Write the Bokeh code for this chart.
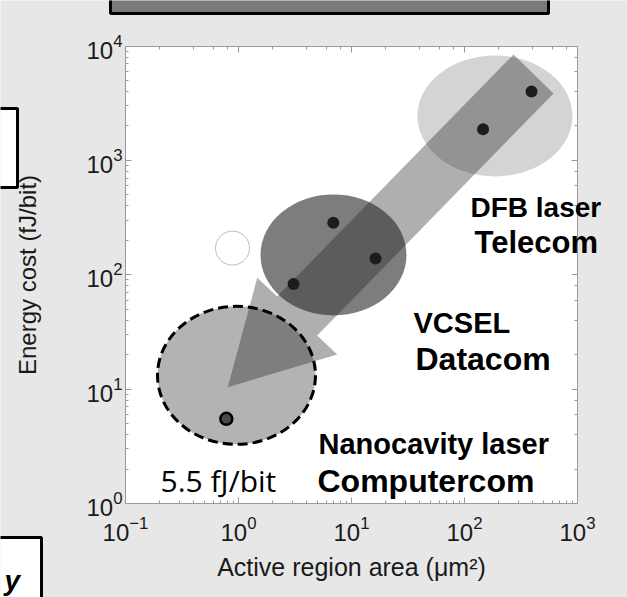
import math
from bokeh.plotting import figure
from bokeh.models import LogAxis, LogTicker, Label, BoxAnnotation, CustomJSTickFormatter, Range1d
from bokeh.embed import file_html
from bokeh.resources import INLINE

# ---------------- data ----------------
telecom_area = [146, 392]
telecom_energy = [1875, 4000]
vcsel_area = [3.07, 6.9, 16.3]
vcsel_energy = [83, 285, 139]
nano_area = [0.78]
nano_energy = [5.5]

x_tick_exponents = [-1, 0, 1, 2, 3]
y_tick_exponents = [0, 1, 2, 3, 4]

# group regions (centres in data units)
region_area = [186, 6.93, 0.96]
region_energy = [2445, 149, 13.2]
marker_area = [0.885]
marker_energy = [171]

# trend arrow outline (log10 data coordinates)
arrow_logx = [2.434, 2.788, 0.696, 0.873, -0.095, 0.166, 0.342]
arrow_logy = [3.926, 3.585, 1.468, 1.303, 1.017, 1.974, 1.809]

# ---------------- layout (pixels) ----------------
W, H = 627, 597
AX_L, AX_R, AX_T, AX_B = 125, 577, 45.5, 503   # axes box inside the canvas

x_lo, x_hi = x_tick_exponents[0], x_tick_exponents[-1]
y_lo, y_hi = y_tick_exponents[0], y_tick_exponents[-1]
dx = (AX_R - AX_L) / (x_hi - x_lo)
dy = (AX_B - AX_T) / (y_hi - y_lo)
x_range = Range1d(10 ** (x_lo - AX_L / dx), 10 ** (x_hi + (W - AX_R) / dx))
y_range = Range1d(10 ** (y_lo - (H - AX_B) / dy), 10 ** (y_hi + AX_T / dy))

BG = "#e7e7e7"
AX = "#9a9a9a"
TXT = "#1a1a1a"
FONT = "Liberation Sans"

p = figure(width=W, height=H, x_axis_type="log", y_axis_type="log",
           x_range=x_range, y_range=y_range,
           output_backend="svg", toolbar_location=None,
           min_border=0, background_fill_color=BG, border_fill_color=BG,
           outline_line_color=None)
p.title.visible = False
p.grid.visible = False

xb = (10 ** x_lo, 10 ** x_hi)
yb = (10 ** y_lo, 10 ** y_hi)

# white axes box
p.add_layout(BoxAnnotation(left=xb[0], right=xb[1], bottom=yb[0], top=yb[1],
                           fill_color="white", fill_alpha=1, line_color=None,
                           level="underlay"))

bottom_ax = p.below[0]
left_ax = p.left[0]
top_ax = LogAxis(ticker=LogTicker(), formatter=CustomJSTickFormatter(code="return ''"))
right_ax = LogAxis(ticker=LogTicker(), formatter=CustomJSTickFormatter(code="return ''"))
p.add_layout(top_ax, "above")
p.add_layout(right_ax, "right")

bottom_ax.fixed_location = yb[0]
top_ax.fixed_location = yb[1]
left_ax.fixed_location = xb[0]
right_ax.fixed_location = xb[1]
for ax in [bottom_ax, top_ax]:
    ax.bounds = xb
for ax in [left_ax, right_ax]:
    ax.bounds = yb

for ax in [bottom_ax, left_ax, top_ax, right_ax]:
    ax.axis_line_color = AX
    ax.major_tick_line_color = AX
    ax.minor_tick_line_color = AX
    ax.major_tick_in = 6
    ax.major_tick_out = 0
    ax.minor_tick_in = 3
    ax.minor_tick_out = 0
    ax.major_label_text_font = FONT
    ax.major_label_text_font_size = "24px"
    ax.major_label_text_color = TXT
    ax.axis_label_text_font = FONT
    ax.axis_label_text_font_style = "normal"
    ax.axis_label_text_color = TXT

bottom_ax.axis_label = "Active region area (\u03bcm\u00b2)"
bottom_ax.axis_label_text_font_size = "25px"
bottom_ax.major_label_standoff = 12
bottom_ax.axis_label_standoff = 9
left_ax.axis_label = "Energy cost (fJ/bit)"
left_ax.axis_label_text_font_size = "24px"
left_ax.major_label_standoff = 3
left_ax.axis_label_standoff = 42

# ---------------- regions ----------------
p.ellipse(x=[region_area[0]], y=[region_energy[0]], width=155, height=121,
          width_units="screen", height_units="screen",
          fill_color="#d4d4d4", line_color=None)
p.ellipse(x=[region_area[1]], y=[region_energy[1]], width=146, height=121,
          width_units="screen", height_units="screen",
          fill_color="#7d7d7d", line_color=None)
p.ellipse(x=[region_area[2]], y=[region_energy[2]], width=158, height=138,
          width_units="screen", height_units="screen",
          fill_color="#b3b3b3", line_color=None)
p.scatter(x=marker_area, y=marker_energy, size=34, fill_color="white",
          line_color="#bdbdbd", line_width=1)

p.patch(x=[10 ** v for v in arrow_logx], y=[10 ** v for v in arrow_logy],
        fill_color="#222222", fill_alpha=0.36, line_color=None)

p.ellipse(x=[region_area[2]], y=[region_energy[2]], width=158, height=138,
          width_units="screen", height_units="screen",
          fill_color=None, line_color="black", line_width=3, line_dash="10 5")

# ---------------- points ----------------
p.scatter(x=telecom_area, y=telecom_energy, size=12, fill_color="#1c1c1c", line_color=None)
p.scatter(x=vcsel_area, y=vcsel_energy, size=12, fill_color="#1c1c1c", line_color=None)
p.scatter(x=nano_area, y=nano_energy, size=12, fill_color="#4a4a4a",
          line_color="black", line_width=2.5)

# ---------------- annotations ----------------
def add_text(txt, sx, sy, size, font=FONT, style="bold", align="left"):
    p.add_layout(Label(x=sx, y=H - sy, x_units="screen", y_units="screen", text=txt,
                       text_align=align, text_baseline="alphabetic",
                       text_font=font, text_font_size=size, text_font_style=style,
                       text_color="black"))

add_text("DFB laser", 470, 207, "28px")
add_text("Telecom", 474, 242, "31px")
add_text("VCSEL", 413, 322, "29px")
add_text("Datacom", 415, 358, "32px")
add_text("Nanocavity laser", 318, 443, "29px")
add_text("Computercom", 317, 480, "32px")
add_text("5.5 fJ/bit", 160, 480, "30px", font="Open Sans", style="normal")

# slide fragments around the chart
def add_box(l, r, t, b, fill):
    p.add_layout(BoxAnnotation(left=l, right=r, top=H - t, bottom=H - b,
                               left_units="screen", right_units="screen",
                               bottom_units="screen", top_units="screen",
                               fill_color=fill, fill_alpha=1,
                               line_color="black", line_width=3, line_alpha=1))

add_box(110, 548, -20, 13, "#7a7a7a")
add_box(-20, 17, 108, 187, "white")
add_box(-20, 41, 537, 620, "white")
add_text("y", 4, 580, "28px", style="bold italic", align="left")

open("out.html", "w").write(file_html(p, INLINE))
